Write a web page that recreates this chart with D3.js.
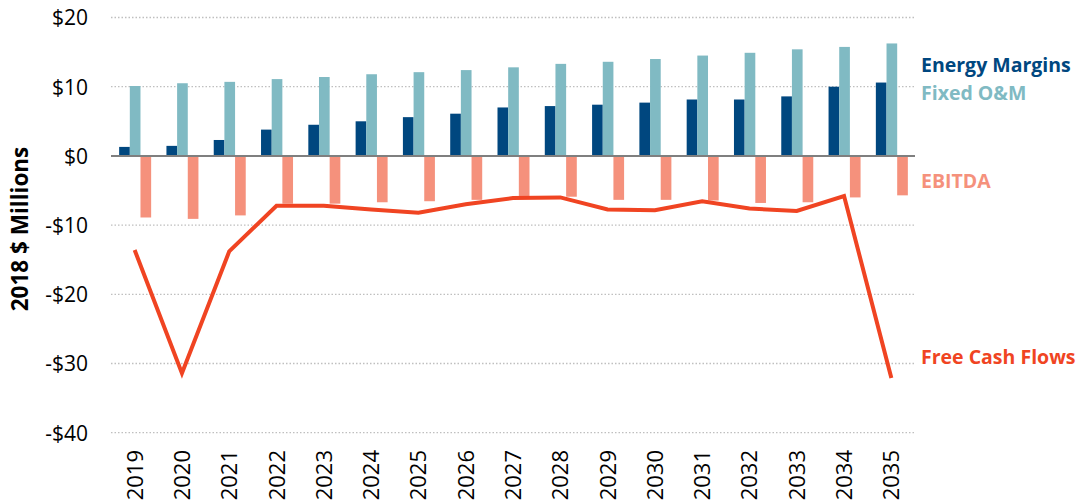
<!DOCTYPE html>
<html>
<head>
<meta charset="utf-8">
<script src="https://cdn.jsdelivr.net/npm/d3@7"></script>
<style>
  html, body { margin: 0; padding: 0; background: #fff; }
  svg { display: block; }
</style>
</head>
<body>
<svg id="chart" width="1081" height="501"></svg>
<script>
const years = ["2019","2020","2021","2022","2023","2024","2025","2026","2027","2028","2029","2030","2031","2032","2033","2034","2035"];
const energyMargins = [1.3, 1.45, 2.3, 3.8, 4.5, 5.0, 5.6, 6.1, 7.0, 7.2, 7.4, 7.7, 8.15, 8.15, 8.6, 10.0, 10.6];
const fixedOM = [10.1, 10.5, 10.7, 11.1, 11.4, 11.8, 12.1, 12.4, 12.8, 13.3, 13.6, 14.0, 14.5, 14.9, 15.4, 15.75, 16.25];
const ebitda = [-8.9, -9.1, -8.6, -6.9, -6.9, -6.7, -6.55, -6.35, -5.85, -5.9, -6.35, -6.35, -6.45, -6.8, -6.7, -6.0, -5.7];
const freeCashFlows = [-13.6, -31.4, -13.8, -7.2, -7.2, -7.75, -8.2, -7.0, -6.1, -6.0, -7.75, -7.85, -6.55, -7.6, -7.95, -5.8, -32.1];
const yTicks = [20, 10, 0, -10, -20, -30, -40];
const seriesNames = ["Energy Margins", "Fixed O&M", "EBITDA"];
const seriesColors = ["#00477f", "#80bac3", "#f5917c"];
const lineName = "Free Cash Flows";
const lineColor = "#f04422";

const svg = d3.select("#chart");
const pLeft = 111, pRight = 915, pTop = 17.5, pBottom = 432.7;

const x = d3.scaleBand().domain(years).range([pLeft, pRight]).paddingInner(0).paddingOuter(0);
const y = d3.scaleLinear().domain([-40, 20]).range([pBottom, pTop]);

const groupW = 32;
const x1 = d3.scaleBand().domain(seriesNames).range([0, groupW]);

// gridlines
svg.append("g").selectAll("line")
  .data(yTicks.filter(d => d !== 0))
  .join("line")
  .attr("x1", pLeft).attr("x2", pRight)
  .attr("y1", d => y(d)).attr("y2", d => y(d))
  .attr("stroke", "#bfbfbf").attr("stroke-width", 1.3)
  .attr("stroke-dasharray", "1.5,2");

// y axis labels
const yAxis = d3.axisLeft(y).tickValues(yTicks).tickSize(0).tickPadding(0)
  .tickFormat(d => (d < 0 ? "-$" : "$") + Math.abs(d));
const ya = svg.append("g").attr("transform", `translate(88,0)`).call(yAxis);
ya.select(".domain").remove();
ya.selectAll("text").attr("font-family", "'Open Sans', sans-serif").attr("font-size", 21).attr("fill", "#000").attr("dy", "0.35em");

// bars
const data = [energyMargins, fixedOM, ebitda];
const g = svg.append("g");
years.forEach((yr, i) => {
  const gx = x(yr) + x.bandwidth() / 2 - groupW / 2 + 0.5;
  seriesNames.forEach((s, k) => {
    const v = data[k][i];
    g.append("rect")
      .attr("x", gx + x1(s))
      .attr("width", x1.bandwidth())
      .attr("y", y(Math.max(0, v)))
      .attr("height", Math.abs(y(v) - y(0)))
      .attr("fill", seriesColors[k]);
  });
});

// zero line
svg.append("line").attr("x1", pLeft).attr("x2", pRight)
  .attr("y1", y(0)).attr("y2", y(0))
  .attr("stroke", "#7f7f7f").attr("stroke-width", 2);

// line
const line = d3.line().x((d, i) => x(years[i]) + x.bandwidth() / 2).y(d => y(d));
svg.append("path").datum(freeCashFlows)
  .attr("d", line).attr("fill", "none")
  .attr("stroke", lineColor).attr("stroke-width", 4).attr("stroke-linejoin", "miter");

// x axis labels
const xAxis = d3.axisBottom(x).tickSize(0).tickPadding(0);
const xa = svg.append("g").call(xAxis);
xa.select(".domain").remove();
xa.selectAll(".tick text")
  .attr("y", null).attr("dy", null)
  .attr("text-anchor", "end")
  .attr("font-family", "'Open Sans', sans-serif").attr("font-size", 22).attr("fill", "#000")
  .attr("transform", "translate(8,450) rotate(-90)");

// axis title
svg.append("text")
  .attr("transform", "translate(28,229) rotate(-90)")
  .attr("text-anchor", "middle")
  .attr("font-family", "'Open Sans', sans-serif").attr("font-weight", "bold").attr("font-size", 22.5)
  .text("2018 $ Millions");

// legend labels
const legend = [
  { t: seriesNames[0], c: seriesColors[0], y: 72 },
  { t: seriesNames[1], c: seriesColors[1], y: 100 },
  { t: seriesNames[2], c: seriesColors[2], y: 188 },
  { t: lineName, c: lineColor, y: 364 }
];
svg.append("g").selectAll("text").data(legend).join("text")
  .attr("x", 921).attr("y", d => d.y)
  .attr("fill", d => d.c)
  .attr("font-family", "'Open Sans', sans-serif").attr("font-weight", "bold").attr("font-size", 19.5)
  .text(d => d.t);
</script>
</body>
</html>
